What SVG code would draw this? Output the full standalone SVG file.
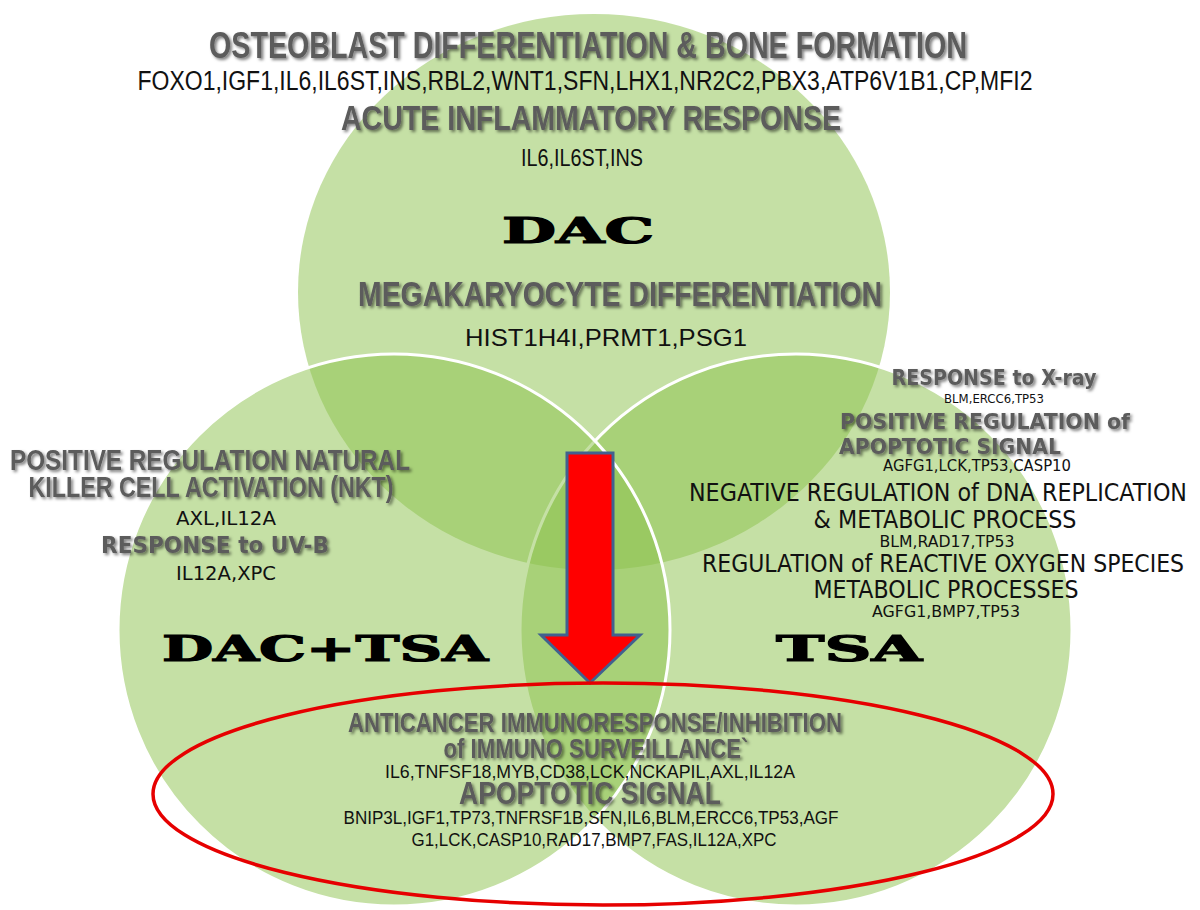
<svg xmlns="http://www.w3.org/2000/svg" width="1200" height="910" viewBox="0 0 1200 910">
<defs>
<filter id="sh" x="-5%" y="-30%" width="110%" height="170%">
<feDropShadow dx="2" dy="2" stdDeviation="1.4" flood-color="#000" flood-opacity="0.5"/>
</filter>
<style>
.venn{fill:#8bc14b;fill-opacity:0.5}
.edge{stroke:#fff;stroke-width:3}
.hb{font-family:"Liberation Sans Narrow","Liberation Sans",sans-serif;font-weight:bold;fill:#5b5b5b;filter:url(#sh);text-anchor:middle}
.hv{font-family:"DejaVu Sans",sans-serif;font-weight:bold;fill:#5b5b5b;filter:url(#sh);text-anchor:middle}
.g{font-family:"Liberation Sans Narrow","Liberation Sans",sans-serif;fill:#111;text-anchor:middle}
.gv{font-family:"DejaVu Sans",sans-serif;fill:#111;text-anchor:middle}
.big{font-family:"DejaVu Serif",serif;font-weight:bold;fill:#000;stroke:#000;stroke-width:1.2;text-anchor:middle}
</style>
</defs>
<rect width="1200" height="910" fill="#fff"/>
<g id="set-dac"><ellipse class="venn" cx="594" cy="292" rx="296" ry="278"/></g>
<g id="set-tsa"><circle class="venn edge" cx="796" cy="630" r="276"/></g>
<g id="set-dactsa"><circle class="venn edge" cx="394" cy="630" r="276"/></g>
<g id="connectors">
<polygon points="567,453 613,453 613,635 640,635 590,683 541,635 567,635" fill="#ff0000" stroke="#41618f" stroke-width="3" stroke-linejoin="miter"/>
</g>
<g id="highlight"><ellipse cx="603" cy="794" rx="450" ry="111" fill="none" stroke="#e60000" stroke-width="3.5"/></g>
<g id="dac-text">
<text class="hb" x="588" y="58" font-size="36" textLength="758" lengthAdjust="spacingAndGlyphs">OSTEOBLAST DIFFERENTIATION &amp; BONE FORMATION</text>
<text class="g" x="585" y="90" font-size="27" textLength="895" lengthAdjust="spacingAndGlyphs">FOXO1,IGF1,IL6,IL6ST,INS,RBL2,WNT1,SFN,LHX1,NR2C2,PBX3,ATP6V1B1,CP,MFI2</text>
<text class="hb" x="591" y="130" font-size="35" textLength="500" lengthAdjust="spacingAndGlyphs">ACUTE INFLAMMATORY RESPONSE</text>
<text class="g" x="582" y="166" font-size="24" textLength="122" lengthAdjust="spacingAndGlyphs">IL6,IL6ST,INS</text>
<text class="big" x="578" y="243" font-size="36" textLength="152" lengthAdjust="spacingAndGlyphs">DAC</text>
<text class="hb" x="620" y="306" font-size="35" textLength="524" lengthAdjust="spacingAndGlyphs">MEGAKARYOCYTE DIFFERENTIATION</text>
<text class="g" x="606" y="346" font-size="24" textLength="282" lengthAdjust="spacingAndGlyphs">HIST1H4I,PRMT1,PSG1</text>
</g>
<g id="tsa-text">
<text class="hv" x="994" y="385" font-size="21" textLength="205" lengthAdjust="spacingAndGlyphs">RESPONSE to X-ray</text>
<text class="gv" x="994" y="403" font-size="12" textLength="100" lengthAdjust="spacingAndGlyphs">BLM,ERCC6,TP53</text>
<text class="hv" x="985" y="429" font-size="22" textLength="290" lengthAdjust="spacingAndGlyphs">POSITIVE REGULATION of</text>
<text class="hv" x="950" y="454" font-size="22" textLength="222" lengthAdjust="spacingAndGlyphs">APOPTOTIC SIGNAL</text>
<text class="gv" x="977" y="471" font-size="15" textLength="188" lengthAdjust="spacingAndGlyphs">AGFG1,LCK,TP53,CASP10</text>
<text class="gv" x="938" y="501" font-size="24" textLength="498" lengthAdjust="spacingAndGlyphs">NEGATIVE REGULATION  of DNA REPLICATION</text>
<text class="gv" x="945" y="528" font-size="24" textLength="263" lengthAdjust="spacingAndGlyphs">&amp; METABOLIC PROCESS</text>
<text class="gv" x="947" y="547" font-size="15" textLength="135" lengthAdjust="spacingAndGlyphs">BLM,RAD17,TP53</text>
<text class="gv" x="943" y="572" font-size="24" textLength="482" lengthAdjust="spacingAndGlyphs">REGULATION of REACTIVE OXYGEN SPECIES</text>
<text class="gv" x="946" y="598" font-size="24" textLength="265" lengthAdjust="spacingAndGlyphs">METABOLIC PROCESSES</text>
<text class="gv" x="946" y="617" font-size="15" textLength="148" lengthAdjust="spacingAndGlyphs">AGFG1,BMP7,TP53</text>
<text class="big" x="849" y="661" font-size="36" textLength="146" lengthAdjust="spacingAndGlyphs">TSA</text>
</g>
<g id="dactsa-text">
<text class="hb" x="210" y="470" font-size="29" textLength="400" lengthAdjust="spacingAndGlyphs">POSITIVE REGULATION NATURAL</text>
<text class="hb" x="211" y="497" font-size="29" textLength="365" lengthAdjust="spacingAndGlyphs">KILLER CELL ACTIVATION (NKT)</text>
<text class="gv" x="226" y="525" font-size="20" textLength="100" lengthAdjust="spacingAndGlyphs">AXL,IL12A</text>
<text class="hv" x="215" y="553" font-size="23" textLength="228" lengthAdjust="spacingAndGlyphs">RESPONSE to UV-B</text>
<text class="gv" x="226" y="580" font-size="20" textLength="100" lengthAdjust="spacingAndGlyphs">IL12A,XPC</text>
<text class="big" x="325" y="661" font-size="36" textLength="326" lengthAdjust="spacingAndGlyphs">DAC+TSA</text>
</g>
<g id="common-text">
<text class="hb" x="595" y="732" font-size="28" textLength="494" lengthAdjust="spacingAndGlyphs">ANTICANCER IMMUNORESPONSE/INHIBITION</text>
<text class="hb" x="596" y="758" font-size="28" textLength="305" lengthAdjust="spacingAndGlyphs">of IMMUNO SURVEILLANCE`</text>
<text class="g" x="590" y="778" font-size="19" textLength="410" lengthAdjust="spacingAndGlyphs">IL6,TNFSF18,MYB,CD38,LCK,NCKAPIL,AXL,IL12A</text>
<text class="hb" x="590" y="804" font-size="32" textLength="262" lengthAdjust="spacingAndGlyphs">APOPTOTIC SIGNAL</text>
<text class="g" x="591" y="824" font-size="19" textLength="495" lengthAdjust="spacingAndGlyphs">BNIP3L,IGF1,TP73,TNFRSF1B,SFN,IL6,BLM,ERCC6,TP53,AGF</text>
<text class="g" x="594" y="846" font-size="19" textLength="365" lengthAdjust="spacingAndGlyphs">G1,LCK,CASP10,RAD17,BMP7,FAS,IL12A,XPC</text>
</g>
</svg>
